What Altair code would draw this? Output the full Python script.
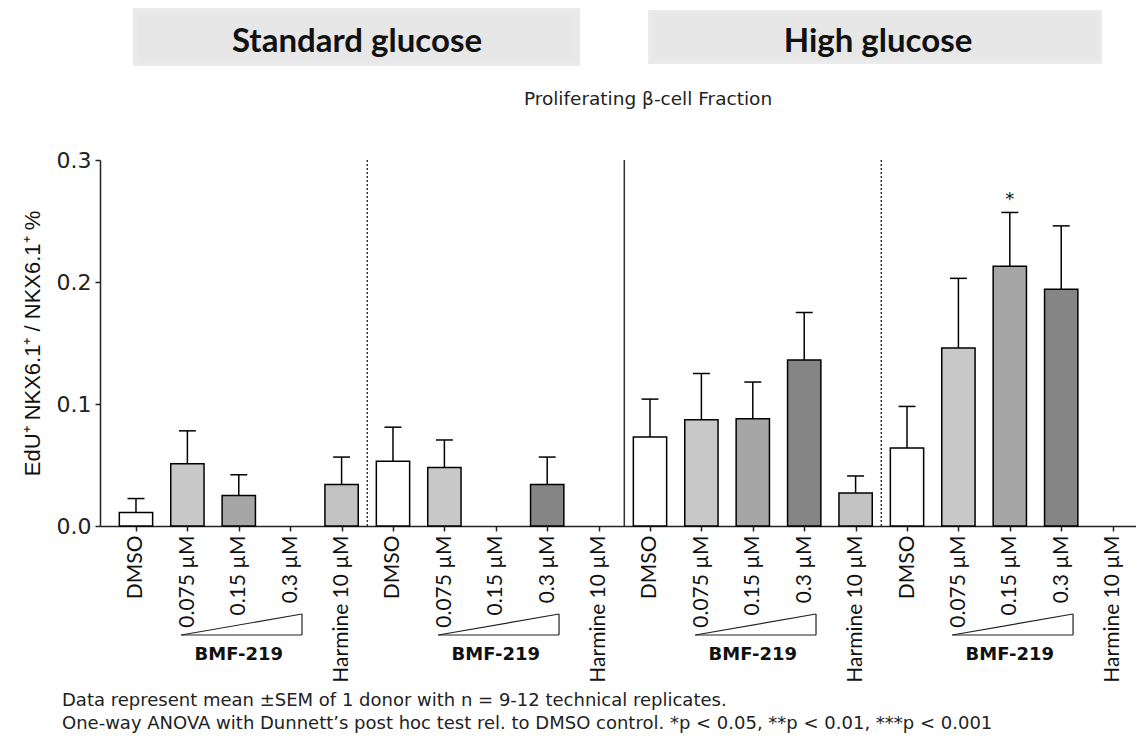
import json
import altair as alt
import pandas as pd

# ---------------- data ----------------
labels = [
    "DMSO", "0.075 µM", "0.15 µM", "0.3 µM", "Harmine 10 µM",
    "DMSO", "0.075 µM", "0.15 µM", "0.3 µM", "Harmine 10 µM",
    "DMSO", "0.075 µM", "0.15 µM", "0.3 µM", "Harmine 10 µM",
    "DMSO", "0.075 µM", "0.15 µM", "0.3 µM", "Harmine 10 µM",
]
means = [
    0.011, 0.051, 0.025, None, 0.034,
    0.053, 0.048, None, 0.034, None,
    0.073, 0.087, 0.088, 0.136, 0.027,
    0.064, 0.146, 0.213, 0.194, None,
]
sems = [
    0.0115, 0.027, 0.017, None, 0.0225,
    0.028, 0.0225, None, 0.0225, None,
    0.031, 0.038, 0.030, 0.039, 0.014,
    0.034, 0.057, 0.044, 0.052, None,
]
stars = [
    "", "", "", "", "",
    "", "", "", "", "",
    "", "", "", "", "",
    "", "", "*", "", "",
]
conditions = ["DMSO", "0.075 µM", "0.15 µM", "0.3 µM", "Harmine 10 µM"]
condition_fill = ["#ffffff", "#c8c8c8", "#a6a6a6", "#858585", "#c2c2c2"]
group_count = 4
group_size = 5
ramp_label = "BMF-219"
headers = ["Standard glucose", "High glucose"]
chart_title = "Proliferating β-cell Fraction"
y_title = "EdU⁺ NKX6.1⁺ / NKX6.1⁺ %"
footnotes = [
    "Data represent mean ±SEM of 1 donor with n = 9-12 technical replicates.",
    "One-way ANOVA with Dunnett’s post hoc test rel. to DMSO control. *p < 0.05, **p < 0.01, ***p < 0.001",
]

# ---------------- tables ----------------
df = pd.DataFrame({"idx": list(range(len(labels))), "label": labels,
                   "mean": means, "sem": sems, "star": stars})
HALF_BAR = 0.324
HALF_CAP = 0.165
df["x0"] = df["idx"] - HALF_BAR
df["x1"] = df["idx"] + HALF_BAR
df["c0"] = df["idx"] - HALF_CAP
df["c1"] = df["idx"] + HALF_CAP
df["top"] = df["mean"] + df["sem"]
df["zero"] = 0.0
bars_df = df.dropna(subset=["mean"]).copy()
star_df = bars_df[bars_df["star"] != ""].copy()

div_df = pd.DataFrame({
    "pos": [g * group_size - 0.5 for g in range(1, group_count)],
    "kind": ["dotted", "solid", "dotted"],
})
div_df["y0"] = 0.0
div_df["y1"] = 0.3

tri_df = pd.DataFrame({
    "left": [g * group_size + 1 - 0.12 for g in range(group_count)],
    "right": [g * group_size + 3 + 0.23 for g in range(group_count)],
    "mid": [g * group_size + 2 for g in range(group_count)],
    "txt": [ramp_label] * group_count,
})

FONT_AX = "Lato"
FONT_TXT = "Liberation Sans"
FONT_WIDE = "DejaVu Sans"
xs = alt.Scale(domain=[-0.70, 19.455], nice=False, zero=False)
ys = alt.Scale(domain=[0, 0.3], nice=False, zero=True)

label_expr = json.dumps(labels, ensure_ascii=False) + "[datum.value]"

x_axis = alt.Axis(
    values=list(range(len(labels))), labelExpr=label_expr, labelAngle=270,
    labelFont=FONT_AX, labelFontSize=21, labelColor="#111", labelPadding=4,
    tickSize=5, tickColor="#222", domainColor="#222", domainWidth=1.5,
    tickWidth=1.5, grid=False, title=None, labelOverlap=False, labelFlush=False)
y_axis = alt.Axis(
    values=[0, 0.1, 0.2, 0.3], format=".1f", labelFont="DejaVu Sans",
    labelFontSize=22, labelColor="#222", tickSize=5, tickColor="#222",
    domainColor="#222", domainWidth=1.5, tickWidth=1.5, grid=False,
    title=y_title, titleFont=FONT_TXT, titleFontSize=22,
    titleFontWeight="normal", titleColor="#111", titlePadding=12,
    labelPadding=4)


def X(field):
    return alt.X(field, scale=xs, axis=x_axis)


def Y(field):
    return alt.Y(field, scale=ys, axis=y_axis)


bars = alt.Chart(bars_df).mark_bar(stroke="black", strokeWidth=1.5).encode(
    x=X("x0:Q"), x2="x1:Q",
    y=Y("mean:Q"), y2="zero:Q",
    fill=alt.Fill("label:N", scale=alt.Scale(domain=conditions, range=condition_fill),
                  legend=None),
)

err = alt.Chart(bars_df).mark_rule(color="black", strokeWidth=1.5).encode(
    x=X("idx:Q"), y=Y("mean:Q"), y2="top:Q",
)
caps = alt.Chart(bars_df).mark_rule(color="black", strokeWidth=1.5).encode(
    x=X("c0:Q"), x2="c1:Q", y=Y("top:Q"),
)
star_txt = alt.Chart(star_df).mark_text(font=FONT_WIDE, fontSize=18, dy=-12,
                                        baseline="middle", color="#111").encode(
    x=X("idx:Q"), y=Y("top:Q"), text="star:N",
)

dotted = alt.Chart(div_df[div_df["kind"] == "dotted"]).mark_rule(
    color="#333", strokeWidth=1.5, strokeDash=[2, 2]).encode(
    x=X("pos:Q"), y=Y("y0:Q"), y2="y1:Q",
)
solid = alt.Chart(div_df[div_df["kind"] == "solid"]).mark_rule(
    color="#333", strokeWidth=1.5).encode(
    x=X("pos:Q"), y=Y("y0:Q"), y2="y1:Q",
)

TRI_BOTTOM = 475
TRI_TOP = 454
tri_base = alt.Chart(tri_df).mark_rule(color="#222", strokeWidth=1.2).encode(
    x=X("left:Q"), x2="right:Q", y=alt.value(TRI_BOTTOM),
)
tri_vert = alt.Chart(tri_df).mark_rule(color="#222", strokeWidth=1.2).encode(
    x=X("right:Q"), y=alt.value(TRI_TOP), y2=alt.value(TRI_BOTTOM),
)
tri_hyp = alt.Chart(tri_df).mark_rule(color="#222", strokeWidth=1.2).encode(
    x=X("left:Q"), x2="right:Q", y=alt.value(TRI_BOTTOM), y2=alt.value(TRI_TOP),
)
tri_txt = alt.Chart(tri_df).mark_text(font=FONT_WIDE, fontWeight="bold",
                                      fontSize=18, color="#111").encode(
    x=X("mid:Q"), y=alt.value(495), text="txt:N",
)


# header boxes (soft grey panels)
def soft_box(x0, x1, y0, y1):
    layers = []
    for k, op in enumerate([0.25, 0.35, 0.5, 0.8]):
        inset = 6 - k * 2
        layers.append(
            alt.Chart(pd.DataFrame({"d": [0]})).mark_rect(
                color="#e6e6e6", opacity=op).encode(
                x=alt.value(x0 + inset), x2=alt.value(x1 - inset),
                y=alt.value(y0 + inset), y2=alt.value(y1 - inset))
        )
    return layers


box_layers = soft_box(33, 480, -152, -94) + soft_box(548, 1002, -150, -96)

head1 = alt.Chart(pd.DataFrame({"t": [headers[0]]})).mark_text(
    font="Lato", fontWeight="bold", fontSize=33, color="#111").encode(
    text="t:N", x=alt.value(257), y=alt.value(-118))
head2 = alt.Chart(pd.DataFrame({"t": [headers[1]]})).mark_text(
    font="Lato", fontWeight="bold", fontSize=33, color="#111").encode(
    text="t:N", x=alt.value(778), y=alt.value(-118))
title_txt = alt.Chart(pd.DataFrame({"t": [chart_title]})).mark_text(
    font=FONT_WIDE, fontSize=18.5, color="#222").encode(
    text="t:N", x=alt.value(548), y=alt.value(-61))
foot1 = alt.Chart(pd.DataFrame({"t": [footnotes[0]]})).mark_text(
    font=FONT_WIDE, fontSize=18, color="#222", align="left").encode(
    text="t:N", x=alt.value(-38), y=alt.value(541))
foot2 = alt.Chart(pd.DataFrame({"t": [footnotes[1]]})).mark_text(
    font=FONT_WIDE, fontSize=18, color="#222", align="left").encode(
    text="t:N", x=alt.value(-38), y=alt.value(564))

chart = alt.layer(
    *box_layers, head1, head2, title_txt,
    bars, err, caps, star_txt, dotted, solid,
    tri_base, tri_vert, tri_hyp, tri_txt, foot1, foot2,
).properties(
    width=1036, height=366,
    autosize=alt.AutoSizeParams(type="none"),
    padding={"left": 92, "top": 152, "right": 0, "bottom": 209},
    background="white",
).configure_view(stroke=None)

chart.save("out.html", embed_options={"renderer": "svg", "actions": False})
